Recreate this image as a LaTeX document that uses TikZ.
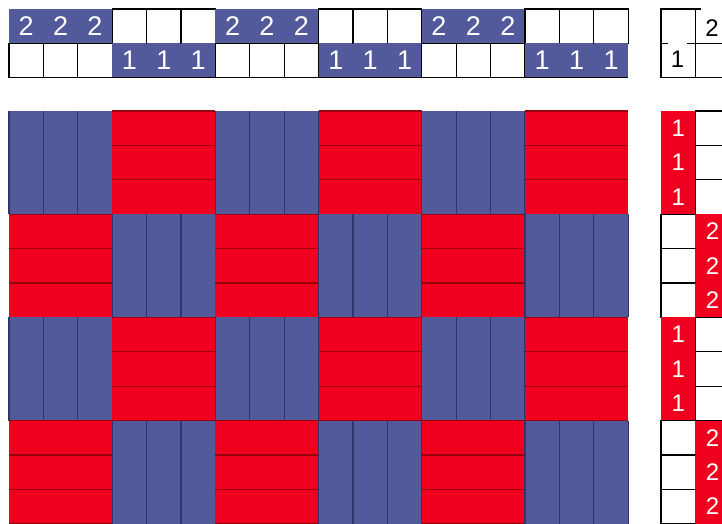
\documentclass[tikz,border=0pt]{standalone}
\usepackage{fontspec}
\setmainfont{Liberation Sans}
\definecolor{warpblue}{RGB}{82,90,155}
\definecolor{warpline}{RGB}{48,54,108}
\definecolor{weftred}{RGB}{240,0,30}
\definecolor{weftline}{RGB}{150,0,15}
\newcommand{\cs}{34.4}

\begin{document}
\begin{tikzpicture}[x=1pt,y=-1pt,
  emptycell/.style={draw=black,line width=1.2pt,fill=white},
  digit/.style={text=white,font=\fontsize{27}{27}\selectfont,inner sep=0pt},
  tdigit/.style={text=white,font=\fontsize{24}{24}\selectfont,inner sep=0pt},
  keydigit/.style={text=black,fill=white,font=\fontsize{24}{24}\selectfont,
    inner sep=0pt,anchor=base}]
\useasboundingbox (0,0) rectangle (722,523);
% Einzug (threading)
\foreach \i in {0,...,17}{
  \pgfmathsetmacro{\xa}{9+\i*\cs}
  \pgfmathsetmacro{\xb}{\xa+\cs}
  \pgfmathtruncatemacro{\blk}{mod(int(\i/3),2)}
  \ifnum\blk=0
    \fill[warpblue] (\xa,9) rectangle (\xb,43.4);
    \node[digit] (ein2-\i) at ({\xa+\cs/2},26.2) {2};
    \draw[emptycell] (\xa,43.4) rectangle (\xb,77.8);
  \else
    \draw[emptycell] (\xa,9) rectangle (\xb,43.4);
    \fill[warpblue] (\xa,43.4) rectangle (\xb,77.8);
    \node[digit] (ein1-\i) at ({\xa+\cs/2},60.6) {1};
  \fi
}
\draw[line width=1.2pt] (9,77.8) -- (628.2,77.8);
% Gewebe (weave)
\foreach \j in {0,...,11}{
  \foreach \i in {0,...,17}{
    \pgfmathsetmacro{\xa}{9+\i*\cs}
    \pgfmathsetmacro{\xb}{\xa+\cs}
    \pgfmathsetmacro{\ya}{111+\j*\cs}
    \pgfmathsetmacro{\yb}{\ya+\cs}
    \pgfmathtruncatemacro{\chk}{mod(int(\i/3)+int(\j/3),2)}
    \ifnum\chk=0
      \fill[warpblue] (\xa,\ya) rectangle (\xb,\yb);
      \draw[warpline,line width=1.1pt] (\xa,\ya) -- (\xa,\yb) (\xb,\ya) -- (\xb,\yb);
    \else
      \fill[weftred] (\xa,\ya) rectangle (\xb,\yb);
      \draw[weftline,line width=1.1pt] (\xa,\ya) -- (\xb,\ya) (\xa,\yb) -- (\xb,\yb);
    \fi
  }
}
% Tritt (treadling)
\foreach \j in {0,...,11}{
  \pgfmathsetmacro{\ya}{111+\j*\cs}
  \pgfmathsetmacro{\yb}{\ya+\cs}
  \pgfmathtruncatemacro{\blk}{mod(int(\j/3),2)}
  \ifnum\blk=0
    \fill[weftred] (661,\ya) rectangle (695.4,\yb);
    \node[tdigit] (tritt1-\j) at (678.2,{\ya+\cs/2}) {1};
    \draw[emptycell] (695.4,\ya) rectangle (729.8,\yb);
  \else
    \draw[emptycell] (661,\ya) rectangle (695.4,\yb);
    \fill[weftred] (695.4,\ya) rectangle (729.8,\yb);
    \node[tdigit] (tritt2-\j) at (712.6,{\ya+\cs/2}) {2};
  \fi
}
% Schnürung (tie-up)
\draw[line width=1.2pt] (730,9) -- (661,9) -- (661,77.8) -- (730,77.8)
  (695.4,9) -- (695.4,77.8) (661,43.4) -- (730,43.4);
\node[keydigit,text height=25pt,text depth=3pt,minimum width=19pt] (schn1) at (677.5,67) {1};
\node[keydigit,text height=28pt,text depth=1pt,minimum width=23pt] (schn2) at (712,36) {2};
\end{tikzpicture}
\end{document}
